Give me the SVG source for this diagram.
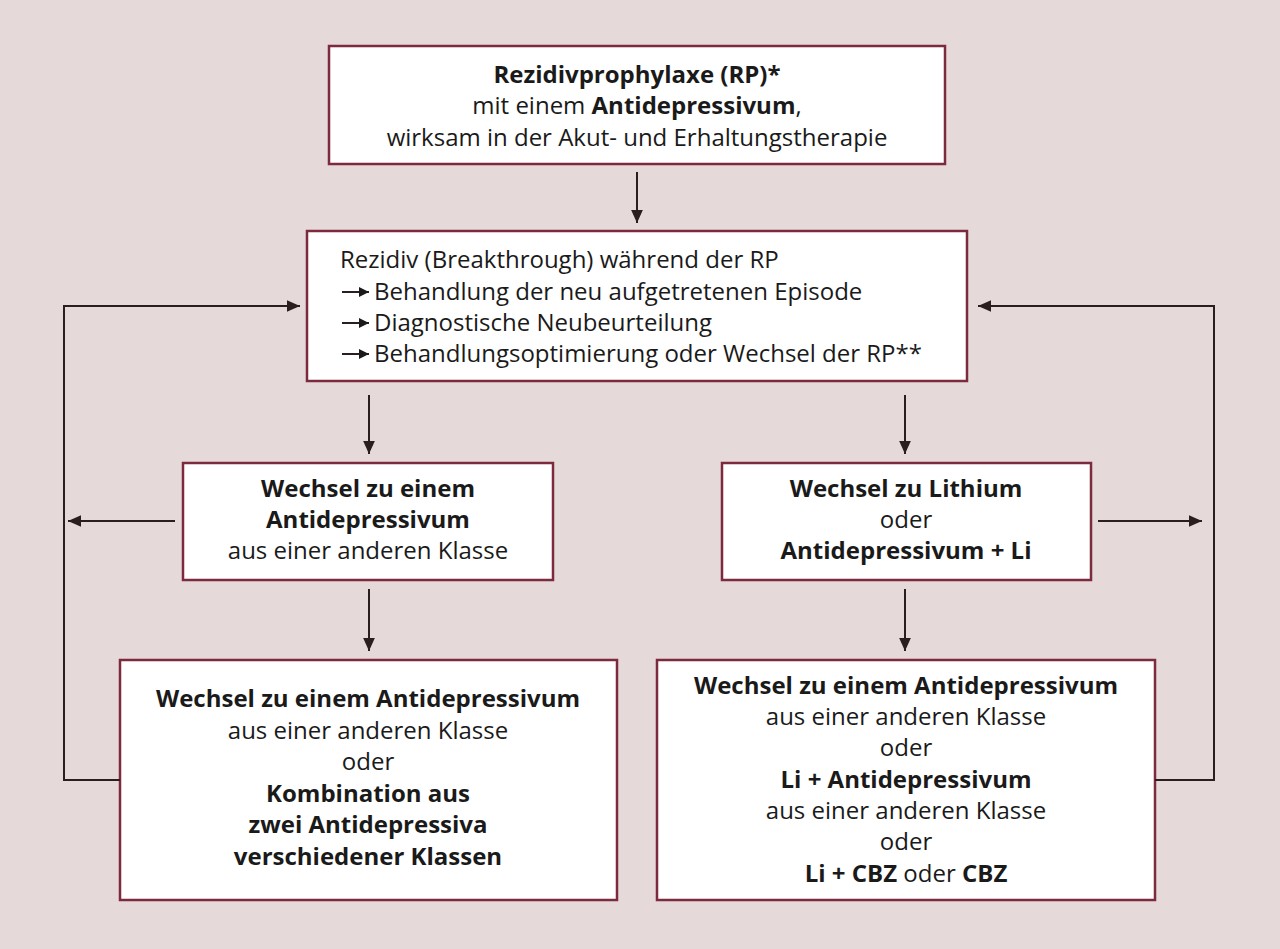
<svg xmlns="http://www.w3.org/2000/svg" width="1280" height="949" viewBox="0 0 1280 949">
<style>
.b{fill:#fff;stroke:#7d2a3c;stroke-width:2.5}
text{font-family:"Open Sans","Noto Sans",sans-serif;font-size:24px;fill:#1a1a1a}
.c{text-anchor:middle}
.k{font-weight:bold}
.l{stroke:#2a1e1e;stroke-width:2;fill:none}
</style>
<defs>
<marker id="a" viewBox="0 0 10 10" refX="10" refY="5" markerWidth="14" markerHeight="13" markerUnits="userSpaceOnUse" orient="auto"><path d="M0,0.5 L10,5 L0,9.5 z" fill="#2a1e1e"/></marker>
<marker id="s" viewBox="0 0 10 10" refX="10" refY="5" markerWidth="12" markerHeight="10" markerUnits="userSpaceOnUse" orient="auto"><path d="M0,0 L10,5 L0,10 z" fill="#1a1a1a"/></marker>
</defs>
<rect width="1280" height="949" fill="#e6d9da"/>
<g id="n1"><rect class="b" x="329" y="46" width="616" height="118"/>
<text class="c" x="637" y="83"><tspan class="k">Rezidivprophylaxe (RP)*</tspan></text>
<text class="c" x="637" y="114">mit einem <tspan class="k">Antidepressivum</tspan>,</text>
<text class="c" x="637" y="146">wirksam in der Akut- und Erhaltungstherapie</text></g>
<g id="n2"><rect class="b" x="307" y="231" width="660" height="150"/>
<text x="340" y="268">Rezidiv (Breakthrough) während der RP</text>
<text x="374" y="300">Behandlung der neu aufgetretenen Episode</text>
<text x="374" y="331">Diagnostische Neubeurteilung</text>
<text x="374" y="362">Behandlungsoptimierung oder Wechsel der RP**</text>
<g class="l" marker-end="url(#s)"><line x1="342" y1="292" x2="369" y2="292"/><line x1="342" y1="323" x2="369" y2="323"/><line x1="342" y1="354" x2="369" y2="354"/></g></g>
<g id="n3"><rect class="b" x="183" y="463" width="370" height="117"/>
<text class="c k" x="368" y="497">Wechsel zu einem</text>
<text class="c k" x="368" y="528">Antidepressivum</text>
<text class="c" x="368" y="559">aus einer anderen Klasse</text></g>
<g id="n4"><rect class="b" x="722" y="463" width="369" height="117"/>
<text class="c k" x="906" y="497">Wechsel zu Lithium</text>
<text class="c" x="906" y="528">oder</text>
<text class="c k" x="906" y="559">Antidepressivum + Li</text></g>
<g id="n5"><rect class="b" x="120" y="660" width="497" height="240"/>
<text class="c k" x="368" y="707">Wechsel zu einem Antidepressivum</text>
<text class="c" x="368" y="739">aus einer anderen Klasse</text>
<text class="c" x="368" y="770">oder</text>
<text class="c k" x="368" y="802">Kombination aus</text>
<text class="c k" x="368" y="833">zwei Antidepressiva</text>
<text class="c k" x="368" y="865">verschiedener Klassen</text></g>
<g id="n6"><rect class="b" x="657" y="660" width="498" height="240"/>
<text class="c k" x="906" y="694">Wechsel zu einem Antidepressivum</text>
<text class="c" x="906" y="725">aus einer anderen Klasse</text>
<text class="c" x="906" y="756">oder</text>
<text class="c k" x="906" y="788">Li + Antidepressivum</text>
<text class="c" x="906" y="819">aus einer anderen Klasse</text>
<text class="c" x="906" y="850">oder</text>
<text class="c" x="906" y="882"><tspan class="k">Li + CBZ</tspan> oder <tspan class="k">CBZ</tspan></text></g>
<g id="connectors" class="l" marker-end="url(#a)">
<line x1="637" y1="172" x2="637" y2="223"/>
<line x1="369" y1="395" x2="369" y2="454"/>
<line x1="905" y1="395" x2="905" y2="454"/>
<line x1="369" y1="589" x2="369" y2="651"/>
<line x1="905" y1="589" x2="905" y2="651"/>
<line x1="175" y1="521" x2="68" y2="521"/>
<line x1="1098" y1="521" x2="1202" y2="521"/>
<polyline points="120,780 64,780 64,306 300,306"/>
<polyline points="1155,780 1214,780 1214,306 978,306"/>
</g>
</svg>
